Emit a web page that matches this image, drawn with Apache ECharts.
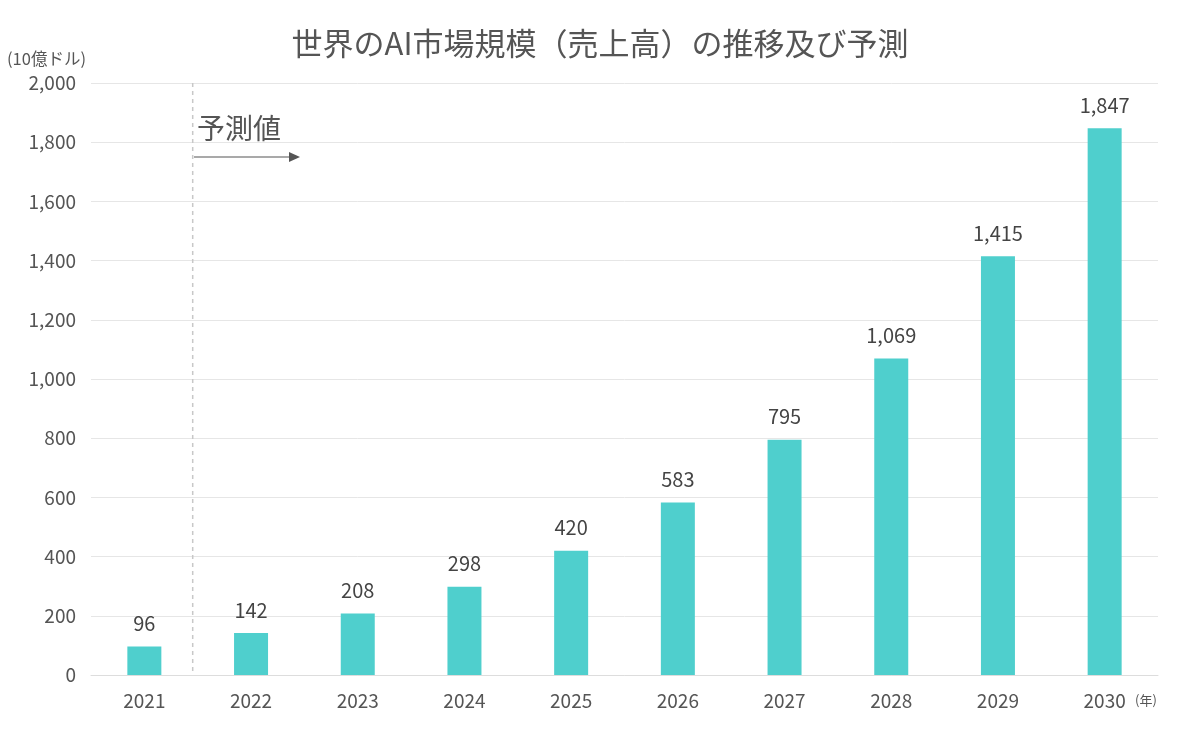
<!DOCTYPE html>
<html><head><meta charset="utf-8">
<script src="https://cdn.jsdelivr.net/npm/echarts@6/dist/echarts.min.js"></script>
<style>html,body{margin:0;padding:0;background:#fff}#c{width:1200px;height:742px}</style>
</head><body><div id="c"></div>
<script>
const years = ['2021','2022','2023','2024','2025','2026','2027','2028','2029','2030'];
const values = [96,142,208,298,420,583,795,1069,1415,1847];
const yTicks = {min:0, max:2000, interval:200};
const FONT = '"Noto Sans CJK JP","Noto Sans",sans-serif';
const chart = echarts.init(document.getElementById('c'));
chart.setOption({
  animation:false,
  textStyle:{fontFamily:FONT},
  title:{text:'世界のAI市場規模（売上高）の推移及び予測', left:'center', top:23,
    textStyle:{fontFamily:FONT, fontSize:31, fontWeight:'normal', color:'#555'}},
  grid:{left:91, right:42, top:83, bottom:67},
  xAxis:{type:'category', data:years,
    axisLine:{lineStyle:{color:'#ddd'}}, axisTick:{show:false},
    axisLabel:{color:'#555', fontSize:19, margin:16, fontFamily:FONT}},
  yAxis:{type:'value', min:yTicks.min, max:yTicks.max, interval:yTicks.interval,
    axisLine:{show:false}, axisTick:{show:false},
    splitLine:{lineStyle:{color:'#e6e6e6'}},
    axisLabel:{color:'#555', fontSize:19, margin:15, fontFamily:FONT,
      formatter:v=>v.toLocaleString('en-US')}},
  series:[{type:'bar', data:values, barWidth:34,
    itemStyle:{color:'#4fcfcd'},
    label:{show:true, position:'top', distance:13, color:'#444', fontSize:20, fontFamily:FONT,
      formatter:p=>p.value.toLocaleString('en-US')}}]
});
const x0 = chart.convertToPixel({xAxisIndex:0}, 0);
const x1 = chart.convertToPixel({xAxisIndex:0}, 1);
const xb = (x0+x1)/2 - 5;
const yTop = chart.convertToPixel({yAxisIndex:0}, 2000);
const yBot = chart.convertToPixel({yAxisIndex:0}, 0);
chart.setOption({graphic:[
  {type:'line', shape:{x1:xb,y1:yTop,x2:xb,y2:yBot}, style:{stroke:'#c8c8c8', lineWidth:1.5, lineDash:[4,4]}},
  {type:'text', left:197, top:114, style:{text:'予測値', font:'28px '+FONT, fill:'#555'}},
  {type:'line', shape:{x1:194,y1:157,x2:290,y2:157}, style:{stroke:'#555', lineWidth:1.2}},
  {type:'polygon', shape:{points:[[289,152],[300,157],[289,162]]}, style:{fill:'#555'}},
  {type:'text', left:7, top:50, style:{text:'(10億ドル)', font:'16.5px '+FONT, fill:'#555'}},
  {type:'text', left:1135, top:694, style:{text:'(年)', font:'13px '+FONT, fill:'#555'}}
]});
</script></body></html>
